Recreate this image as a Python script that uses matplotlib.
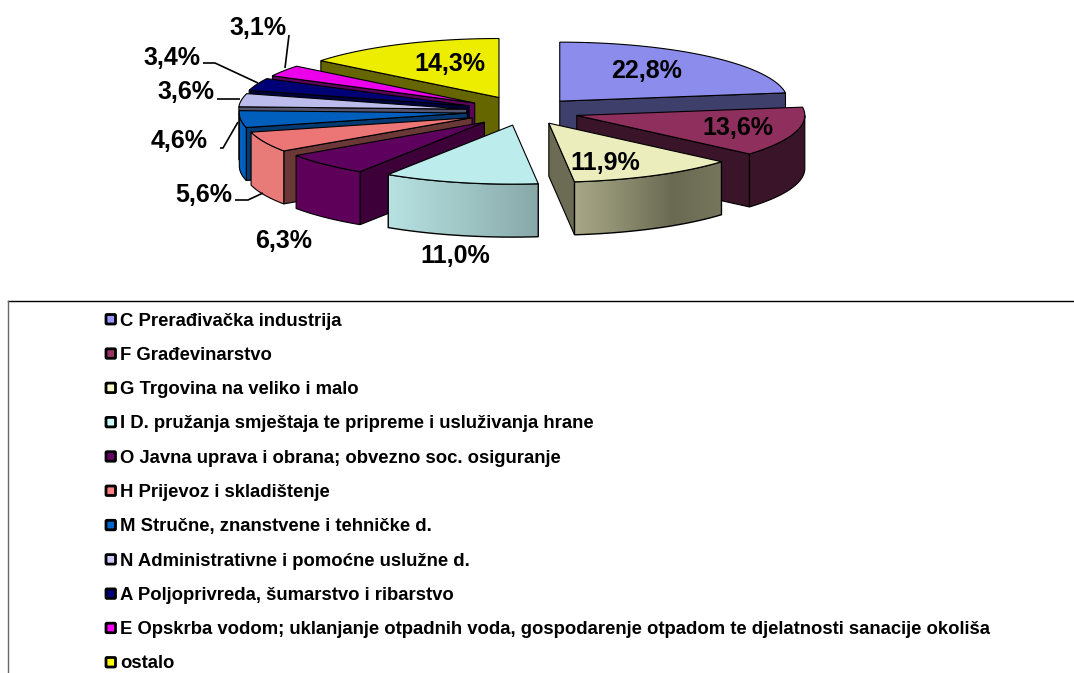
import numpy as np
import matplotlib
matplotlib.use("Agg")
import matplotlib.pyplot as plt
from matplotlib.colors import to_rgb
from matplotlib.patches import Polygon, FancyBboxPatch

plt.rcParams['font.family'] = ['Liberation Sans', 'DejaVu Sans']

# ---- data ----
categories = ["C Prerađivačka industrija", "F Građevinarstvo", "G Trgovina na veliko i malo",
              "I D. pružanja smještaja te pripreme i usluživanja hrane",
              "O Javna uprava i obrana; obvezno soc. osiguranje", "H Prijevoz i skladištenje",
              "M Stručne, znanstvene i tehničke d.", "N Administrativne i pomoćne uslužne d.",
              "A Poljoprivreda, šumarstvo i ribarstvo",
              "E Opskrba vodom; uklanjanje otpadnih voda, gospodarenje otpadom te djelatnosti sanacije okoliša",
              "ostalo"]
shares = [22.8, 13.6, 11.9, 11.0, 6.3, 5.6, 4.6, 3.6, 3.4, 3.1, 14.3]
labels = ["22,8%", "13,6%", "11,9%", "11,0%", "6,3%", "5,6%", "4,6%", "3,6%", "3,4%", "3,1%", "14,3%"]

# ---- styles ----
legend_colors = ["#9999ff", "#993366", "#ffffcc", "#ccffff", "#660066", "#ff8080",
                 "#0066cc", "#ccccff", "#000080", "#ff00ff", "#ffff00"]
top_colors = ["#8c8cec", "#8e2f5e", "#ecedbd", "#bcecec", "#5e005e", "#ec7676",
              "#005ebc", "#bcbcec", "#000076", "#ec00ec", "#eded00"]
radial_colors = ["#3f3f6b", "#3a1428", "#6c6c54", "#7a9a9a", "#3d0038", "#6b3838",
                 "#033a72", "#555570", "#000040", "#5e005e", "#666600"]
arc_stops = [["#3f3f6b"], ["#3a1428"], ["#a8a888", "#8a8a6e", "#6a6a52", "#76765c"],
             ["#b8e2e2", "#a0c6c6", "#88a8a8"], ["#5e0059"], ["#e87b78"], ["#0060c0"],
             ["#8888aa"], ["#000060"], ["#a000a0"], ["#666600"]]
explode = [53, 54, 51, 54, 58, 58, 58, 59, 60, 60, 60]
CX, CY, RX, RY, DEPTH = 525, 111.5, 228, 59, 53
draw_order = [0, 10, 9, 8, 7, 6, 5, 4, 1, 2, 3]
label_xy = [(647, 71), (738, 128), (605, 163), (455, 256), (284, 241), (204, 195),
            (179, 141), (186, 92), (172, 58), (258, 28), (450, 64)]
leaders = [[(289, 35), (285, 68)], [(203, 63), (215, 63), (258, 83)], [(217, 99), (240, 99)],
           [(220, 148), (223, 148), (238, 122)], [(235, 200), (248, 200), (263, 193)]]

fig = plt.figure(figsize=(10.74, 6.73), dpi=100)
ax = fig.add_axes([0, 0, 1, 1])
ax.axis("off")

edges = np.concatenate([[0], np.cumsum(shares)]) / sum(shares) * 360
LW = 0.8


def pt(tip, deg):
    r = np.radians(deg)
    return tip[0] + RX * np.sin(r), tip[1] - RY * np.cos(r)


for i in draw_order:
    a1, a2 = edges[i], edges[i + 1]
    mid = np.radians((a1 + a2) / 2)
    tip = (CX + explode[i] * np.sin(mid), CY - explode[i] * RY / RX * np.cos(mid))
    z = 3 + draw_order.index(i)
    theta = np.linspace(a1, a2, 80)
    arc = np.array([pt(tip, t) for t in theta])

    # radial walls facing the viewer
    for edge, normal in ((a1, a1 - 90), (a2, a2 + 90)):
        if np.cos(np.radians(normal)) < -0.02:
            p = pt(tip, edge)
            ax.add_patch(Polygon([tip, p, (p[0], p[1] + DEPTH), (tip[0], tip[1] + DEPTH)],
                                 closed=True, fc=radial_colors[i], ec="black", lw=LW, zorder=z))

    # outer curved wall (front half only), left to right colour run
    lo, hi = max(a1, 90), min(a2, 270)
    if hi > lo:
        th = np.linspace(lo, hi, 60)
        pts = np.array([pt(tip, t) for t in th])
        outline = np.vstack([pts, (pts + (0, DEPTH))[::-1]])
        stops = arc_stops[i]
        if len(stops) == 1:
            ax.add_patch(Polygon(outline, closed=True, fc=stops[0], ec="black", lw=LW, zorder=z + 0.2))
        else:
            rgb = np.array([to_rgb(c) for c in stops])
            t = np.linspace(0, 1, 200)
            grad = np.stack([np.interp(t, np.linspace(0, 1, len(stops)), rgb[:, k]) for k in range(3)], axis=-1)
            box = Polygon(outline, closed=True, fc="none", ec="black", lw=LW + 0.2, zorder=z + 0.3)
            ax.add_patch(box)
            im = ax.imshow(grad[None, :, :], aspect="auto", zorder=z + 0.2,
                           extent=(outline[:, 0].min(), outline[:, 0].max(),
                                   outline[:, 1].max(), outline[:, 1].min()))
            im.set_clip_path(box)

    # top face
    ax.add_patch(Polygon(np.vstack([[tip], arc]), closed=True, fc=top_colors[i],
                         ec="black", lw=LW, zorder=z + 0.4))

for txt, (x, y) in zip(labels, label_xy):
    ax.text(x, y, txt, fontsize=18, fontweight="bold", ha="center", va="center",
            color="black", zorder=30)
for line in leaders:
    xs, ys = zip(*line)
    ax.plot(xs, ys, color="black", lw=1.2, zorder=29, solid_capstyle="butt")

# legend box
ax.plot([8, 1074], [301, 301], color="black", lw=1.0, zorder=1)
ax.plot([8, 8], [301, 673], color="#666666", lw=1.0, zorder=1)
for k, (name, c) in enumerate(zip(categories, legend_colors)):
    y = 319 + k * 34.3
    ax.add_patch(FancyBboxPatch((106, y - 4.5), 9.5, 9.5, boxstyle="round,pad=0,rounding_size=1",
                                fc=c, ec="black", lw=2.0, zorder=5))
    ax.text(120, y, name, fontsize=13.35, fontweight="bold", ha="left", va="center_baseline", color="black")

ax.set_xlim(0, 1074)
ax.set_ylim(673, 0)
fig.savefig("out.png", dpi=100)
